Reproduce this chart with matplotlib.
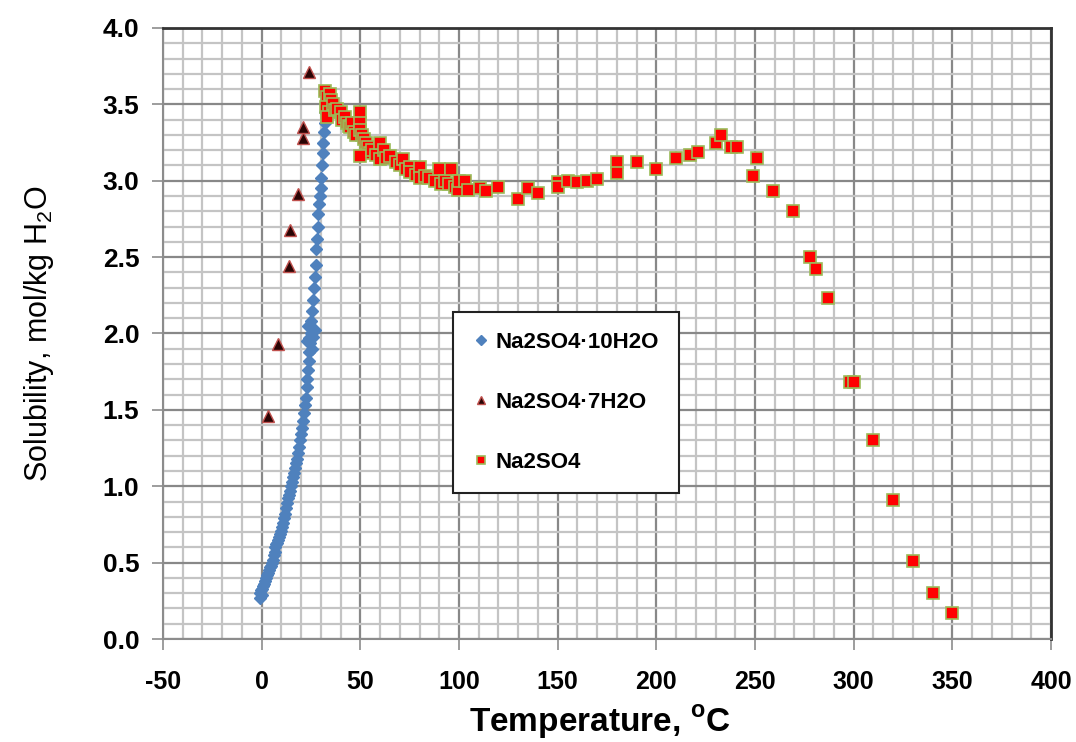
import numpy as np
import matplotlib
matplotlib.use("Agg")
import matplotlib.pyplot as plt
from matplotlib import font_manager
from matplotlib.ticker import MultipleLocator, FormatStrFormatter

# Na2SO4.10H2O (blue diamonds)
t_deca = [-1.0, -0.8, -0.5, 0.0, 0.0, 0.5, 1.0, 1.5, 2.0, 2.5, 3.0, 3.5, 4.0, 4.5,
          5.0, 5.5, 6.0, 6.5, 7.0, 7.5, 8.0, 8.5, 9.0, 9.5, 10.0, 10.5, 11.0, 11.5,
          12.0, 12.5, 13.0, 13.5, 14.0, 14.5, 15.0, 15.5, 16.0, 16.5, 17.0, 17.5,
          18.0, 18.5, 19.0, 19.5, 20.0, 20.5, 21.0, 21.5, 22.0, 22.5, 23.0, 23.0,
          23.5, 24.0, 24.0, 24.5, 24.0, 25.0, 24.5, 25.0, 23.0, 26.0, 27.0, 25.5,
          23.5, 25.5, 26.0, 26.5, 27.0, 27.5, 27.5, 28.0, 28.5, 28.5, 29.0, 29.5,
          30.0, 30.0, 30.5, 31.0, 31.0, 31.5, 32.0, 32.0]
s_deca = [0.27, 0.30, 0.32, 0.29, 0.33, 0.35, 0.36, 0.38, 0.40, 0.42, 0.43, 0.45, 0.47, 0.48,
          0.50, 0.52, 0.55, 0.57, 0.60, 0.62, 0.63, 0.65, 0.67, 0.69, 0.71, 0.73, 0.76, 0.79,
          0.82, 0.86, 0.89, 0.92, 0.94, 0.97, 1.00, 1.03, 1.06, 1.09, 1.12, 1.15,
          1.18, 1.22, 1.26, 1.30, 1.34, 1.38, 1.43, 1.48, 1.53, 1.58, 1.65, 1.70,
          1.76, 1.82, 1.88, 1.94, 1.97, 2.00, 2.04, 2.08, 1.95, 1.98, 2.02, 1.90,
          2.05, 2.15, 2.22, 2.30, 2.37, 2.45, 2.55, 2.62, 2.70, 2.78, 2.85, 2.90,
          2.95, 3.02, 3.10, 3.18, 3.25, 3.32, 3.38, 3.45]

# Na2SO4.7H2O (dark triangles)
t_hepta = [3.0, 8.1, 13.7, 14.2, 18.3, 20.8, 20.8, 23.8]
s_hepta = [1.46, 1.93, 2.44, 2.68, 2.91, 3.28, 3.35, 3.71]

# Na2SO4 anhydrous (red squares)
t_anh = [32, 33, 34.5, 35, 32.5, 34, 33, 36, 37, 38, 40, 40.5, 42, 43, 44, 45, 46, 47,
         48, 49.7, 50, 50, 51, 52, 53, 54, 55, 50, 56, 58, 60, 60, 62, 63, 65, 68, 70,
         71.5, 73, 75, 75, 78, 80, 80, 83, 85, 88, 90, 91, 93, 95, 96, 98, 99.5, 100,
         103, 104.5, 110.5, 113.5, 120, 129.7, 135, 140, 150, 150, 155, 160, 165, 170,
         180, 180, 190, 200, 210, 217, 221, 230, 233, 238, 241, 249, 251, 259, 269,
         278, 281, 287, 298, 300, 310, 320, 330, 340, 350]
s_anh = [3.59, 3.55, 3.57, 3.53, 3.48, 3.45, 3.42, 3.50, 3.46, 3.47, 3.45, 3.40, 3.42,
         3.38, 3.36, 3.35, 3.38, 3.32, 3.30, 3.45, 3.38, 3.33, 3.30, 3.27, 3.25, 3.22,
         3.18, 3.16, 3.20, 3.17, 3.25, 3.14, 3.20, 3.15, 3.16, 3.12, 3.10, 3.14, 3.08,
         3.09, 3.06, 3.04, 3.09, 3.02, 3.03, 3.02, 3.00, 3.08, 2.98, 3.00, 2.98, 3.08,
         2.96, 2.94, 3.00, 3.00, 2.94, 2.95, 2.93, 2.96, 2.88, 2.95, 2.92, 2.99, 2.96,
         3.00, 2.99, 3.00, 3.01, 3.12, 3.05, 3.12, 3.08, 3.15, 3.17, 3.19, 3.25, 3.30,
         3.22, 3.22, 3.03, 3.15, 2.93, 2.80, 2.50, 2.42, 2.23, 1.68, 1.68, 1.30, 0.91,
         0.51, 0.30, 0.17]

names = {f.name for f in font_manager.fontManager.ttflist}
narrow = "Liberation Sans Narrow" if "Liberation Sans Narrow" in names else "Liberation Sans"
plt.rcParams["font.family"] = ["Liberation Sans", "DejaVu Sans"]

fig = plt.figure(figsize=(10.76, 7.42), dpi=100)
ax = fig.add_axes([0.1515, 0.1388, 0.8253, 0.8235])

ax.plot(t_deca, s_deca, "D", ms=6.5, color="#4F81BD", mec="#4F81BD",
        label="Na2SO4\u00b710H2O", zorder=3)
ax.plot(t_hepta, s_hepta, "^", ms=8, color="#2a0505", mec="#C0504D", mew=1,
        label="Na2SO4\u00b77H2O", zorder=4)
ax.plot(t_anh, s_anh, "s", ms=8.5, color="#FF0000", mec="#9BBB59", mew=1.2,
        label="Na2SO4", zorder=5)

ax.set_xlim(-50, 400)
ax.set_ylim(0, 4.0)
ax.xaxis.set_major_locator(MultipleLocator(50))
ax.xaxis.set_minor_locator(MultipleLocator(10))
ax.yaxis.set_major_locator(MultipleLocator(0.5))
ax.yaxis.set_minor_locator(MultipleLocator(0.1))
ax.yaxis.set_major_formatter(FormatStrFormatter("%.1f"))
ax.xaxis.set_major_formatter(FormatStrFormatter("%d"))
ax.grid(which="minor", color="#c4c4c4", lw=1.6, zorder=0)
ax.grid(which="major", color="#888888", lw=1.6, zorder=0)
ax.set_axisbelow(True)

for side in ("left", "bottom"):
    ax.spines[side].set_color("#8c8c8c")
    ax.spines[side].set_linewidth(1.5)
for side in ("top", "right"):
    ax.spines[side].set_color("#333333")
    ax.spines[side].set_linewidth(2)

ax.tick_params(which="major", direction="out", length=8, width=1.2, color="#8c8c8c")
ax.tick_params(which="minor", length=0)
ax.tick_params(axis="y", pad=9, labelsize=19)
ax.tick_params(axis="x", pad=14, labelsize=18)
for lab in ax.get_yticklabels():
    lab.set_fontweight("bold")
for lab in ax.get_xticklabels():
    lab.set_fontweight("bold")
    lab.set_family(narrow)

ax.set_xlabel("Temperature, $^{\\mathregular{o}}$C", fontsize=24, fontweight="bold",
              family=narrow)
ax.xaxis.set_label_coords(0.492, -0.105)
ax.set_ylabel("Solubility, mol/kg H$_\\mathregular{2}$O", fontsize=22, family=narrow)
ax.yaxis.set_label_coords(-0.12, 0.5)

leg = ax.legend(loc="upper left", bbox_to_anchor=(0.3266, 0.535),
                prop={"weight": "bold", "size": 16}, frameon=True, fancybox=False,
                borderpad=0.9, labelspacing=1.75, handletextpad=0.3, handlelength=0.7,
                borderaxespad=0, markerscale=0.75)
leg.get_frame().set_edgecolor("#222222")
leg.get_frame().set_linewidth(1.5)
leg.get_frame().set_facecolor("white")
leg.get_frame().set_alpha(1)
leg.set_zorder(10)

fig.savefig("out.png", dpi=100)
